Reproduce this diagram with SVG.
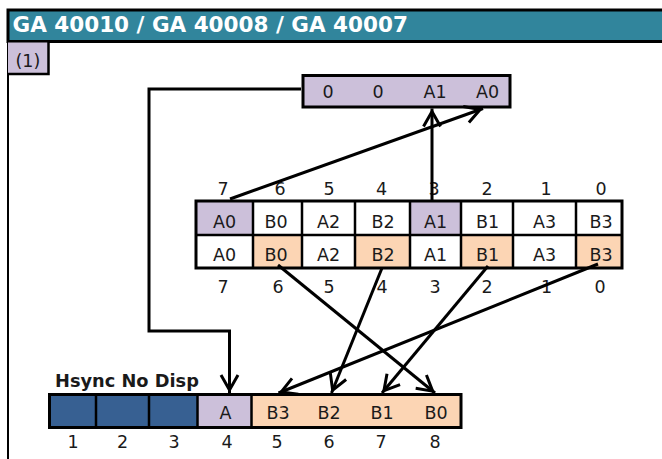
<svg xmlns="http://www.w3.org/2000/svg" width="662" height="459" viewBox="0 0 662 459">
<defs>
<style>
.t{font-family:"DejaVu Sans","Liberation Sans",sans-serif;font-size:17.5px;fill:#1a1a1a;text-anchor:middle}
.b{font-family:"DejaVu Sans","Liberation Sans",sans-serif;font-weight:bold}
.ln{fill:none;stroke:#000;stroke-width:3}
.grid{fill:none;stroke:#000;stroke-width:2.5}
.lav{fill:#CCC0DA}
.pch{fill:#FCD5B4}
.blu{fill:#376092}
.wht{fill:#fff}
</style>
<marker id="arr" markerUnits="userSpaceOnUse" markerWidth="26" markerHeight="26" viewBox="-22 -13 26 26" refX="0" refY="0" orient="auto" overflow="visible">
<path d="M-18,-8.5 L-3,0 L-18,8.5" fill="none" stroke="#000" stroke-width="3" stroke-linejoin="miter"/>
</marker>
</defs>
<rect width="662" height="459" fill="#fff"/>

<g id="frame">
<rect x="8" y="10" width="660" height="31.5" fill="#31859C" stroke="#000" stroke-width="3"/>
<line x1="8" y1="40" x2="8" y2="459" stroke="#000" stroke-width="2"/>
<text class="b" x="12.5" y="32" font-size="21.5" fill="#fff">GA 40010 / GA 40008 / GA 40007</text>
</g>

<g id="label1">
<rect x="8" y="42.5" width="40.5" height="31" class="lav"/>
<path d="M48.5,42 V74 H8" class="grid"/>
<text x="15.5" y="66.5" font-family="DejaVu Sans, sans-serif" font-size="17.5" fill="#1a1a1a">(1)</text>
</g>

<g id="topbox">
<rect x="303" y="75.5" width="207" height="31.5" class="lav" stroke="#000" stroke-width="3"/>
<text class="t" x="328" y="98">0</text>
<text class="t" x="378" y="98">0</text>
<text class="t" x="435" y="98">A1</text>
<text class="t" x="487.5" y="98">A0</text>
</g>

<g id="table">
<rect x="196" y="201" width="57" height="34" class="lav"/>
<rect x="253" y="201" width="157" height="34" class="wht"/>
<rect x="410" y="201" width="51" height="34" class="lav"/>
<rect x="461" y="201" width="161" height="34" class="wht"/>
<rect x="196" y="235" width="57" height="33" class="wht"/>
<rect x="253" y="235" width="49" height="33" class="pch"/>
<rect x="302" y="235" width="53" height="33" class="wht"/>
<rect x="355" y="235" width="55" height="33" class="pch"/>
<rect x="410" y="235" width="51" height="33" class="wht"/>
<rect x="461" y="235" width="52" height="33" class="pch"/>
<rect x="513" y="235" width="63" height="33" class="wht"/>
<rect x="576" y="235" width="46" height="33" class="pch"/>
<path d="M253,201 V268 M302,201 V268 M355,201 V268 M410,201 V268 M461,201 V268 M513,201 V268 M576,201 V268 M196,235 H622" class="grid"/>
<rect x="196" y="201" width="426" height="67" fill="none" stroke="#000" stroke-width="3"/>
<text class="t" x="224.5" y="227.5">A0</text>
<text class="t" x="276" y="227.5">B0</text>
<text class="t" x="328.5" y="227.5">A2</text>
<text class="t" x="383" y="227.5">B2</text>
<text class="t" x="435.5" y="227.5">A1</text>
<text class="t" x="487.5" y="227.5">B1</text>
<text class="t" x="544.5" y="227.5">A3</text>
<text class="t" x="601" y="227.5">B3</text>
<text class="t" x="224.5" y="261">A0</text>
<text class="t" x="276" y="261">B0</text>
<text class="t" x="328.5" y="261">A2</text>
<text class="t" x="383" y="261">B2</text>
<text class="t" x="435.5" y="261">A1</text>
<text class="t" x="487.5" y="261">B1</text>
<text class="t" x="544.5" y="261">A3</text>
<text class="t" x="601" y="261">B3</text>
<text class="t" x="223" y="195">7</text>
<text class="t" x="280" y="195">6</text>
<text class="t" x="329" y="195">5</text>
<text class="t" x="381.5" y="195">4</text>
<text class="t" x="434" y="195">3</text>
<text class="t" x="487" y="195">2</text>
<text class="t" x="546" y="195">1</text>
<text class="t" x="601" y="195">0</text>
<text class="t" x="223" y="292.5">7</text>
<text class="t" x="278" y="292.5">6</text>
<text class="t" x="329" y="292.5">5</text>
<text class="t" x="382" y="292.5">4</text>
<text class="t" x="435" y="292.5">3</text>
<text class="t" x="487" y="292.5">2</text>
<text class="t" x="546.5" y="292.5">1</text>
<text class="t" x="600" y="292.5">0</text>
</g>

<g id="bottomrow">
<text class="b" x="55" y="387" font-size="17.8" fill="#1a1a1a">Hsync No Disp</text>
<rect x="49" y="394" width="148.5" height="34" class="blu"/>
<rect x="197.5" y="394" width="54" height="34" class="lav"/>
<rect x="251.5" y="394" width="209.5" height="34" class="pch"/>
<path d="M96,394 V428 M149,394 V428 M197.5,394 V428 M251.5,394 V428" class="grid"/>
<rect x="49.5" y="394.5" width="411.5" height="33" fill="none" stroke="#000" stroke-width="3"/>
<text class="t" x="225.5" y="419">A</text>
<text class="t" x="278" y="419">B3</text>
<text class="t" x="329" y="419">B2</text>
<text class="t" x="382" y="419">B1</text>
<text class="t" x="436" y="419">B0</text>
<text class="t" x="73" y="447.5">1</text>
<text class="t" x="122.5" y="447.5">2</text>
<text class="t" x="174" y="447.5">3</text>
<text class="t" x="227" y="447.5">4</text>
<text class="t" x="277" y="447.5">5</text>
<text class="t" x="329" y="447.5">6</text>
<text class="t" x="381" y="447.5">7</text>
<text class="t" x="435" y="447.5">8</text>
</g>

<g id="connectors">
<path d="M230,199 L483,108.5" class="ln" marker-end="url(#arr)"/>
<path d="M432,202 L432,108.5" class="ln" marker-end="url(#arr)"/>
<path d="M301,89 H149 V331 H229.5 V393" class="ln" marker-end="url(#arr)"/>
<path d="M278,265 L435,393" class="ln" marker-end="url(#arr)"/>
<path d="M382,268 L331.5,393" class="ln" marker-end="url(#arr)"/>
<path d="M488,266 L382,393" class="ln" marker-end="url(#arr)"/>
<path d="M598,264 L278.5,393" class="ln" marker-end="url(#arr)"/>
</g>
</svg>
